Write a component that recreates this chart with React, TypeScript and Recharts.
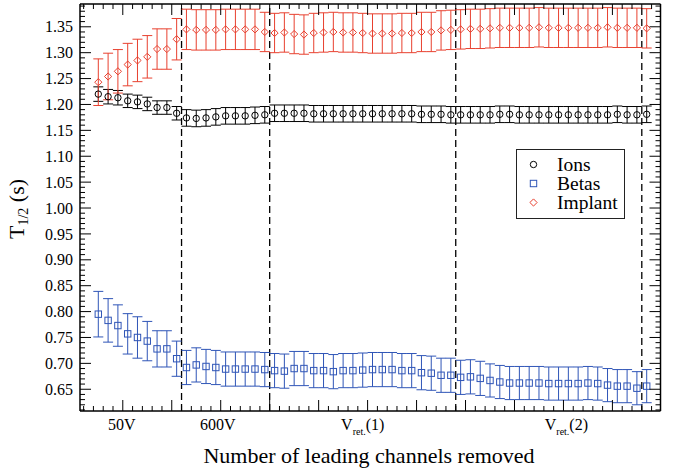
import { ScatterChart, Scatter, XAxis, YAxis, ErrorBar, ReferenceLine, Legend } from 'recharts';

const FONT = '"Liberation Serif", "Times New Roman", serif';
const BLACK = '#000000';
const BLUE = '#2f55b7';
const RED = '#e8402f';

// channel index along the x axis
const channels = [
  0, 1, 2, 3, 4, 5, 6, 7, 8, 9,
  10, 11, 12, 13, 14, 15, 16, 17, 18, 19,
  20, 21, 22, 23, 24, 25, 26, 27, 28, 29,
  30, 31, 32, 33, 34, 35, 36, 37, 38, 39,
  40, 41, 42, 43, 44, 45, 46, 47, 48, 49,
  50, 51, 52, 53, 54, 55, 56,
];

const ionsT = [
  1.220, 1.215, 1.213, 1.207, 1.205, 1.201, 1.194, 1.194, 1.183, 1.174,
  1.173, 1.174, 1.176, 1.178, 1.178, 1.178, 1.179, 1.180, 1.183, 1.183,
  1.183, 1.183, 1.182, 1.182, 1.182, 1.182, 1.182, 1.182, 1.182, 1.182,
  1.182, 1.182, 1.182, 1.181, 1.181, 1.181, 1.180, 1.180, 1.180, 1.180,
  1.180, 1.181, 1.181, 1.180, 1.180, 1.180, 1.180, 1.180, 1.180, 1.180,
  1.180, 1.180, 1.180, 1.181, 1.180, 1.180, 1.181,
];
const ionsErr = [
  0.014, 0.014, 0.014, 0.013, 0.013, 0.013, 0.013, 0.013, 0.013, 0.016,
  0.016, 0.016, 0.016, 0.016, 0.016, 0.016, 0.016, 0.016, 0.016, 0.016,
  0.016, 0.016, 0.016, 0.016, 0.016, 0.016, 0.016, 0.016, 0.016, 0.016,
  0.016, 0.016, 0.016, 0.016, 0.016, 0.016, 0.016, 0.016, 0.016, 0.016,
  0.016, 0.016, 0.016, 0.016, 0.016, 0.016, 0.016, 0.016, 0.016, 0.016,
  0.016, 0.016, 0.016, 0.016, 0.016, 0.016, 0.016,
];

const betasT = [
  0.795, 0.783, 0.773, 0.757, 0.750, 0.743, 0.728, 0.728, 0.709, 0.692,
  0.697, 0.694, 0.692, 0.689, 0.689, 0.689, 0.689, 0.688, 0.686, 0.685,
  0.690, 0.690, 0.686, 0.686, 0.684, 0.686, 0.686, 0.687, 0.688, 0.688,
  0.688, 0.686, 0.686, 0.682, 0.681, 0.677, 0.677, 0.673, 0.674, 0.671,
  0.667, 0.664, 0.662, 0.662, 0.662, 0.662, 0.661, 0.661, 0.661, 0.661,
  0.662, 0.661, 0.658, 0.656, 0.656, 0.652, 0.656,
];
const betasErr = [
  0.044, 0.042, 0.040, 0.039, 0.040, 0.038, 0.035, 0.035, 0.034, 0.033,
  0.033, 0.033, 0.033, 0.033, 0.033, 0.033, 0.033, 0.033, 0.033, 0.033,
  0.033, 0.033, 0.033, 0.033, 0.033, 0.033, 0.033, 0.033, 0.033, 0.033,
  0.033, 0.033, 0.033, 0.033, 0.033, 0.033, 0.033, 0.033, 0.033, 0.033,
  0.032, 0.032, 0.032, 0.032, 0.032, 0.032, 0.032, 0.032, 0.032, 0.032,
  0.032, 0.032, 0.032, 0.032, 0.032, 0.032, 0.032,
];

const implantT = [
  1.243, 1.254, 1.264, 1.277, 1.285, 1.292, 1.307, 1.307, 1.326, 1.345,
  1.344, 1.344, 1.344, 1.345, 1.345, 1.345, 1.345, 1.340, 1.338, 1.339,
  1.336, 1.335, 1.338, 1.339, 1.340, 1.339, 1.339, 1.338, 1.337, 1.337,
  1.337, 1.338, 1.338, 1.340, 1.340, 1.343, 1.344, 1.345, 1.346, 1.346,
  1.347, 1.348, 1.348, 1.348, 1.348, 1.349, 1.348, 1.348, 1.348, 1.348,
  1.348, 1.348, 1.349, 1.348, 1.348, 1.348, 1.347,
];
const implantErr = [
  0.045, 0.045, 0.042, 0.041, 0.041, 0.041, 0.039, 0.039, 0.040, 0.039,
  0.039, 0.039, 0.039, 0.039, 0.039, 0.039, 0.039, 0.038, 0.038, 0.038,
  0.038, 0.038, 0.038, 0.038, 0.038, 0.038, 0.038, 0.038, 0.038, 0.038,
  0.038, 0.038, 0.038, 0.038, 0.038, 0.038, 0.038, 0.038, 0.038, 0.038,
  0.038, 0.038, 0.038, 0.038, 0.038, 0.038, 0.038, 0.038, 0.038, 0.038,
  0.038, 0.038, 0.038, 0.038, 0.038, 0.038, 0.038,
];

// voltage settings separating the runs
const boundaries = [8.5, 17.5, 36.5, 55.5];
const regionPos = [2.4, 12.2, 27.0, 47.8];
const regionMain = ['50V', '600V', 'V', 'V'];
const regionSub = ['', '', 'ret.', 'ret.'];
const regionTail = ['', '', '(1)', '(2)'];

const X_DOMAIN: [number, number] = [-1.87, 57.41];
const Y_DOMAIN: [number, number] = [0.608, 1.394];
const MAJ = 11;
const MIN = 5;

const xTicks = Array.from({ length: 59 }, (_, i) => i - 1.5);
const yTicks = Array.from({ length: 79 }, (_, i) => (61 + i) / 100);
const isMajorX = (v: number) => Math.abs((((v + 2.5) % 5) + 5) % 5) < 1e-6;
const isMajorY = (v: number) => Math.round(v * 100) % 5 === 0;

type Kind = 'circle' | 'square' | 'diamond';

function Marker({ kind, cx, cy, color }: { kind: Kind; cx: number; cy: number; color: string }) {
  if (kind === 'circle') {
    return <circle cx={cx} cy={cy} r={3.2} fill="none" stroke={color} strokeWidth={1} />;
  }
  if (kind === 'square') {
    return <rect x={cx - 3.2} y={cy - 3.2} width={6.4} height={6.4} fill="none" stroke={color} strokeWidth={1} />;
  }
  const d = 3.6;
  return (
    <path
      d={`M${cx},${cy - d}L${cx + d},${cy}L${cx},${cy + d}L${cx - d},${cy}Z`}
      fill="none"
      stroke={color}
      strokeWidth={1}
    />
  );
}

const series = [
  { key: 'ions', name: 'Ions', color: BLACK, kind: 'circle' as Kind, t: ionsT, err: ionsErr },
  { key: 'betas', name: 'Betas', color: BLUE, kind: 'square' as Kind, t: betasT, err: betasErr },
  { key: 'implant', name: 'Implant', color: RED, kind: 'diamond' as Kind, t: implantT, err: implantErr },
];

const BottomTick = (p: any) => {
  const len = isMajorX(p.payload.value) ? MAJ : MIN;
  return <line x1={p.x} x2={p.x} y1={p.y} y2={p.y - len} stroke={BLACK} strokeWidth={1} />;
};
const TopTick = (p: any) => {
  const len = isMajorX(p.payload.value) ? MAJ : MIN;
  return <line x1={p.x} x2={p.x} y1={p.y} y2={p.y + len} stroke={BLACK} strokeWidth={1} />;
};
const LeftTick = (p: any) => {
  const v = p.payload.value as number;
  const major = isMajorY(v);
  return (
    <g>
      <line x1={p.x} x2={p.x + (major ? MAJ : MIN)} y1={p.y} y2={p.y} stroke={BLACK} strokeWidth={1} />
      {major && (
        <text x={p.x - 7} y={p.y} dy="0.35em" textAnchor="end" fontSize={16} fontFamily={FONT} fill={BLACK}>
          {v.toFixed(2)}
        </text>
      )}
    </g>
  );
};
const RightTick = (p: any) => {
  const len = isMajorY(p.payload.value) ? MAJ : MIN;
  return <line x1={p.x} x2={p.x - len} y1={p.y} y2={p.y} stroke={BLACK} strokeWidth={1} />;
};
const RegionTick = (p: any) => {
  const i = regionPos.indexOf(p.payload.value);
  if (i < 0) return <g />;
  return (
    <text x={p.x} y={p.y + 18} textAnchor="middle" fontSize={16} fontFamily={FONT} fill={BLACK}>
      <tspan>{regionMain[i]}</tspan>
      {regionSub[i] && <tspan fontSize={10} dy={5}>{regionSub[i]}</tspan>}
      {regionTail[i] && <tspan fontSize={16} dy={-5}>{regionTail[i]}</tspan>}
    </text>
  );
};

const XTitle = () => (
  <text x={369} y={463} textAnchor="middle" fontSize={22} fontFamily={FONT} fill={BLACK}>
    Number of leading channels removed
  </text>
);
const YTitle = () => (
  <text
    x={24}
    y={209}
    transform="rotate(-90, 24, 209)"
    textAnchor="middle"
    fontSize={22}
    fontFamily={FONT}
    fill={BLACK}
  >
    <tspan>T</tspan>
    <tspan fontSize={14} dy={4}>1/2</tspan>
    <tspan dy={-4}> (s)</tspan>
  </text>
);

const LegendBox = () => (
  <div
    style={{
      position: 'relative',
      width: 107,
      height: 68,
      border: '1px solid #222',
      background: '#fff',
      fontFamily: FONT,
      fontSize: 19.5,
      color: BLACK,
    }}
  >
    {series.map((s, i) => (
      <div
        key={s.key}
        style={{ position: 'absolute', left: 0, top: 4.5 + i * 19.2, height: 19, display: 'flex', alignItems: 'center' }}
      >
        <svg width={40} height={19} style={{ display: 'block' }}>
          <Marker kind={s.kind} cx={16.5} cy={9.5} color={s.color} />
        </svg>
        <span style={{ lineHeight: '19px', height: 19 }}>{s.name}</span>
      </div>
    ))}
  </div>
);

export default function App() {
  return (
    <div style={{ position: 'absolute', left: 0, top: 0, width: 682, height: 472, background: '#fff' }}>
      <ScatterChart width={682} height={472} margin={{ top: 3, right: 20.5, bottom: 59, left: 79 }}>
        <XAxis
          xAxisId="b"
          type="number"
          dataKey="x"
          orientation="bottom"
          domain={X_DOMAIN}
          allowDataOverflow
          ticks={xTicks}
          interval={0}
          tick={BottomTick}
          tickLine={false}
          tickSize={0}
          tickMargin={0}
          height={1}
          axisLine={{ stroke: BLACK, strokeWidth: 1.5 }}
          label={<XTitle />}
        />
        <XAxis
          xAxisId="lab"
          type="number"
          dataKey="x"
          orientation="bottom"
          domain={X_DOMAIN}
          allowDataOverflow
          ticks={regionPos}
          interval={0}
          tick={RegionTick}
          tickLine={false}
          tickSize={0}
          tickMargin={0}
          height={1}
          axisLine={false}
        />
        <XAxis
          xAxisId="t"
          type="number"
          dataKey="x"
          orientation="top"
          domain={X_DOMAIN}
          allowDataOverflow
          ticks={xTicks}
          interval={0}
          tick={TopTick}
          tickLine={false}
          tickSize={0}
          tickMargin={0}
          height={1}
          axisLine={{ stroke: BLACK, strokeWidth: 1.5 }}
        />
        <YAxis
          yAxisId="l"
          type="number"
          dataKey="y"
          orientation="left"
          domain={Y_DOMAIN}
          allowDataOverflow
          ticks={yTicks}
          interval={0}
          tick={LeftTick}
          tickLine={false}
          tickSize={0}
          tickMargin={0}
          width={1}
          axisLine={{ stroke: BLACK, strokeWidth: 1.5 }}
          label={<YTitle />}
        />
        <YAxis
          yAxisId="r"
          type="number"
          dataKey="y"
          orientation="right"
          domain={Y_DOMAIN}
          allowDataOverflow
          ticks={yTicks}
          interval={0}
          tick={RightTick}
          tickLine={false}
          tickSize={0}
          tickMargin={0}
          width={1}
          axisLine={{ stroke: BLACK, strokeWidth: 1.5 }}
        />
        {boundaries.map((b) => (
          <ReferenceLine
            key={b}
            x={b}
            xAxisId="b"
            yAxisId="l"
            stroke={BLACK}
            strokeWidth={1.3}
            strokeDasharray="7 4"
          />
        ))}
        {series.map((s) => (
          <Scatter
            key={s.key}
            name={s.name}
            xAxisId="b"
            yAxisId="l"
            data={channels.map((x, i) => ({ x, y: s.t[i], err: s.err[i] }))}
            isAnimationActive={false}
            shape={(p: any) => <Marker kind={s.kind} cx={p.cx} cy={p.cy} color={s.color} />}
          >
            <ErrorBar dataKey="err" direction="y" width={5} stroke={s.color} strokeWidth={1} isAnimationActive={false} />
          </Scatter>
        ))}
        <Legend
          verticalAlign="middle"
          align="center"
          content={LegendBox}
          wrapperStyle={{ position: 'absolute', left: 516, top: 149, width: 109, height: 70 }}
        />
      </ScatterChart>
    </div>
  );
}
